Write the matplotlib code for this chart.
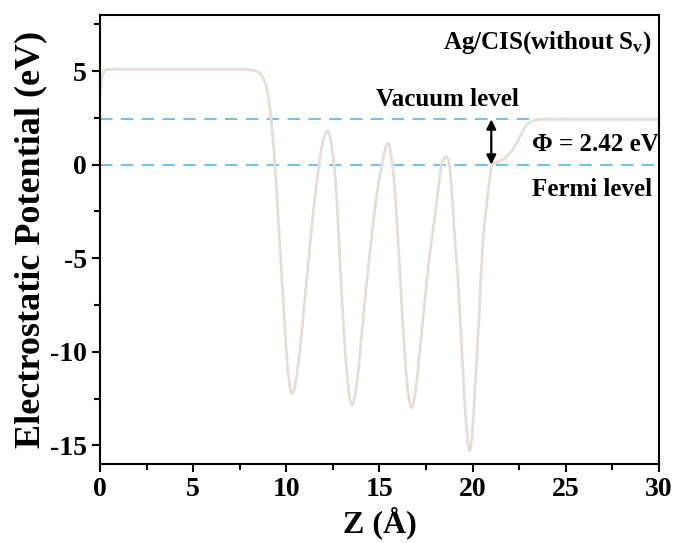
import numpy as np
import matplotlib
matplotlib.use("Agg")
import matplotlib.pyplot as plt

plt.rcParams['font.family'] = ['Liberation Serif', 'DejaVu Serif']
plt.rcParams['font.weight'] = 'bold'
plt.rcParams['axes.unicode_minus'] = False
plt.rcParams['mathtext.fontset'] = 'custom'
plt.rcParams['mathtext.rm'] = 'Liberation Serif:bold'
plt.rcParams['mathtext.it'] = 'Liberation Serif:bold'

# planar-averaged potential
z = [0.0, 0.05, 0.1, 0.15, 0.22, 0.32, 0.6, 7.6, 8.0, 8.3, 8.5, 8.65, 8.8, 8.92,
     9.02, 9.1, 9.18, 9.26, 9.33, 9.39, 9.48, 9.57, 9.66, 9.75, 9.83, 9.92, 10.0,
     10.08, 10.16, 10.23, 10.3, 10.37, 10.45, 10.55, 10.65, 10.75, 10.85, 10.95,
     11.06, 11.17, 11.3, 11.45, 11.6, 11.76, 11.88, 12.0, 12.1, 12.2, 12.3, 12.4,
     12.48, 12.56, 12.64, 12.72, 12.8, 12.88, 12.96, 13.05, 13.14, 13.23, 13.32,
     13.42, 13.52, 13.6, 13.7, 13.8, 13.9, 14.0, 14.1, 14.2, 14.3, 14.4, 14.52,
     14.65, 14.8, 14.95, 15.08, 15.15, 15.25, 15.35, 15.44, 15.52, 15.6, 15.7,
     15.78, 15.86, 15.95, 16.04, 16.13, 16.22, 16.32, 16.42, 16.52, 16.62, 16.73,
     16.82, 16.92, 17.02, 17.1, 17.18, 17.3, 17.42, 17.53, 17.65, 17.8, 17.98,
     18.13, 18.27, 18.38, 18.5, 18.6, 18.68, 18.75, 18.83, 18.92, 19.0, 19.08,
     19.18, 19.28, 19.38, 19.48, 19.58, 19.67, 19.75, 19.82, 19.88, 19.95, 20.03,
     20.12, 20.21, 20.28, 20.34, 20.43, 20.52, 20.6, 20.67, 20.76, 20.84, 20.93,
     21.02, 21.15, 21.35, 21.55, 21.75, 21.95, 22.1, 22.23, 22.36, 22.5, 22.65,
     22.8, 22.95, 23.1, 23.3, 23.55, 23.8, 30.0]
pot = [3.7, 4.2, 4.6, 4.85, 5.0, 5.08, 5.1, 5.1, 5.08, 5.03, 4.95, 4.8, 4.55, 4.2,
       3.7, 3.1, 2.42, 1.6, 0.8, 0.0, -1.4, -3.0, -4.5, -5.9, -7.2, -8.7, -10.0,
       -11.0, -11.7, -12.1, -12.25, -12.15, -11.9, -11.35, -10.6, -9.7, -8.7, -7.6,
       -6.5, -5.4, -4.0, -2.5, -1.2, 0.0, 0.85, 1.4, 1.7, 1.82, 1.68, 1.26,
       0.6, 0.0, -0.9, -2.1, -3.5, -5.3, -6.8, -8.3, -9.7, -10.9, -11.9,
       -12.6, -12.85, -12.75, -12.3, -11.6, -10.7, -9.6, -8.5, -7.4, -6.4, -5.5, -4.4,
       -3.2, -2.0, -0.95, -0.25, 0.1, 0.6, 0.98, 1.15, 1.05, 0.7, 0.0,
       -0.8, -1.9, -3.3, -4.8, -6.4, -8.0, -9.6, -11.0, -12.1, -12.75, -13.0,
       -12.8, -12.2, -11.4, -10.6, -9.84, -8.6, -7.4, -6.3, -5.2, -4.0, -2.75,
       -1.5, -0.35, 0.2, 0.4, 0.44, 0.3, 0.0, -0.8, -2.0, -3.3, -4.5,
       -5.6, -7.3, -9.2, -11.1, -12.8, -14.1, -14.9, -15.3, -15.2, -14.7, -13.7,
       -12.0, -10.6, -9.3, -8.24, -6.3, -4.6, -3.55, -2.8, -2.05, -1.33, -0.65,
       0.0, 0.08, 0.15, 0.22, 0.35, 0.55, 0.75, 0.95, 1.15, 1.42, 1.72,
       2.0, 2.18, 2.28, 2.36, 2.41, 2.43, 2.42]

vacuum = 2.42
fermi = 0.0
arrow_z = 21.0

fig = plt.figure(figsize=(6.79, 5.43), dpi=100)
ax = fig.add_axes([0.1473, 0.1455, 0.8232, 0.8269])

ax.axhline(vacuum, color='#6ec3ee', lw=1.5, ls=(0, (6, 4)))
ax.axhline(fermi, color='#6ec3ee', lw=1.5, ls=(0, (6, 4)))
ax.plot(z, pot, color='#e5ddd6', lw=2.0)

ax.annotate('', xy=(arrow_z, vacuum), xytext=(arrow_z, fermi),
            arrowprops=dict(arrowstyle='<|-|>', color='black', lw=1.6,
                            mutation_scale=14, shrinkA=0, shrinkB=0))

ax.text(18.65, 3.46, 'Vacuum level', fontsize=18, fontweight='bold',
        ha='center', va='center')
ax.text(23.2, 1.06, '\u03a6 = 2.42 eV', fontsize=18, fontweight='bold',
        ha='left', va='center')
ax.text(23.2, -1.33, 'Fermi level', fontsize=18, fontweight='bold',
        ha='left', va='center')
ax.text(29.6, 6.2, 'Ag/CIS(without S$_\\mathregular{v}$)', fontsize=18,
        fontweight='bold', ha='right', va='baseline')

ax.set_xlim(0, 30)
ax.set_ylim(-16, 8)
ax.set_xticks([0, 5, 10, 15, 20, 25, 30])
ax.set_xticks([2.5, 7.5, 12.5, 17.5, 22.5, 27.5], minor=True)
ax.set_yticks([-15, -10, -5, 0, 5])
ax.set_yticks([-12.5, -7.5, -2.5, 2.5, 7.5], minor=True)
ax.tick_params(which='both', direction='out', width=1.5, labelsize=20)
ax.tick_params(which='major', length=6)
ax.tick_params(which='minor', length=4)
for lab in ax.get_xticklabels() + ax.get_yticklabels():
    lab.set_fontweight('bold')
for s in ax.spines.values():
    s.set_linewidth(1.5)

ax.set_xlabel('Z (\u00c5)', fontsize=23, fontweight='bold', labelpad=3)
ax.set_ylabel('Electrostatic Potential (eV)', fontsize=26, fontweight='bold', labelpad=2)

fig.savefig('out.png', dpi=100)
